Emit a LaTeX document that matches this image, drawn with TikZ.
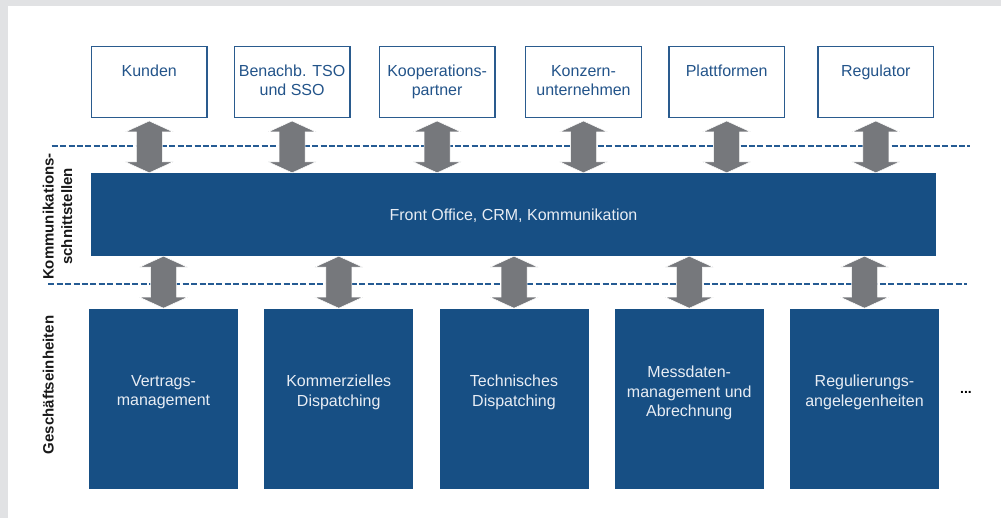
\documentclass[tikz,border=0pt]{standalone}
\usepackage{fontspec}
\setmainfont{Liberation Sans}
\usetikzlibrary{calc}
\definecolor{navy}{HTML}{174F84}
\definecolor{arrowgray}{HTML}{76787C}
\definecolor{lineblue}{HTML}{255B93}
\definecolor{boxblue}{HTML}{2A5B8E}
\definecolor{textblue}{HTML}{23548A}
\definecolor{pagegray}{HTML}{E1E2E4}
\definecolor{lighttext}{HTML}{E8EDF4}
\begin{document}
\begin{tikzpicture}[x=1pt,y=-1pt,
  topbox/.style={draw=boxblue, line width=1.4pt, fill=white, minimum width=115.6pt, minimum height=70.6pt, inner sep=0pt},
  unitbox/.style={fill=navy, minimum width=149pt, minimum height=179.5pt, inner sep=0pt},
  fobox/.style={fill=navy, minimum width=845pt, minimum height=83pt, inner sep=0pt},
  toptext/.style={anchor=north, inner sep=0pt, align=center, text=textblue, font=\fontsize{16}{19}\selectfont},
  unittext/.style={anchor=north, inner sep=0pt, align=center, text=lighttext, font=\fontsize{16}{19.5}\selectfont},
  sidelabel/.style={rotate=90, inner sep=0pt, align=center, font=\bfseries\fontsize{15}{18.7}\selectfont, text=black!90},
  sepline/.style={draw=lineblue, line width=2pt, dash pattern=on 6pt off 2.4pt},
  dbl/.style={fill=arrowgray, draw=white, line width=0.5pt,
    to path={let \p1=(\tikztostart), \p2=(\tikztotarget) in
      (\x1,\y1) -- (\x1+24pt,\y1-11pt) -- (\x1+13pt,\y1-11pt) -- (\x1+13pt,\y2+11pt)
      -- (\x1+24pt,\y2+11pt) -- (\x1,\y2) -- (\x1-24pt,\y2+11pt) -- (\x1-13pt,\y2+11pt)
      -- (\x1-13pt,\y1-11pt) -- (\x1-24pt,\y1-11pt) -- cycle}},
]
\useasboundingbox (0,0) rectangle (1001,518);
\fill[pagegray] (0,0) rectangle (1001,518);
\fill[white] (7.5,6) rectangle (1001,518);

% separator lines
\coordinate (d1l) at (51.7,145.7);
\coordinate (d1r) at (970,145.7);
\coordinate (d2l) at (48.3,283.7);
\coordinate (d2r) at (967,283.7);
\draw[sepline] (d1l) -- (d1r);
\draw[sepline] (d2l) -- (d2r);

% side labels
\node[sidelabel] (lk) at (57.5,216.5) {Kommunikations-\\schnittstellen};
\node[sidelabel] (lg) at (48.2,385) {Geschäftseinheiten};

% top boxes
\node[topbox] (t1) at (149.25,82) {};
\node[topbox] (t2) at (292.1,82) {};
\node[topbox] (t3) at (437.1,82) {};
\node[topbox] (t4) at (583.5,82) {};
\node[topbox] (t5) at (726.7,82) {};
\node[topbox] (t6) at (875.8,82) {};
\node[toptext] (tt1) at (149.25,65) {Kunden};
\node[toptext] (tt2) at (292.1,65) {Benachb. TSO\\und SSO};
\node[toptext] (tt3) at (437.1,65) {Kooperations-\\partner};
\node[toptext] (tt4) at (583.5,65) {Konzern-\\unternehmen};
\node[toptext] (tt5) at (726.7,65) {Plattformen};
\node[toptext] (tt6) at (875.8,65) {Regulator};

% front office
\node[fobox] (fo) at (513.5,214.5) {};
\node[anchor=base, inner sep=0pt, text=lighttext, font=\fontsize{16}{19}\selectfont] (fot) at (513.5,221) {Front Office, CRM, Kommunikation};

% business units
\node[unitbox] (u1) at (163.5,398.75) {};
\node[unitbox] (u2) at (338.75,398.75) {};
\node[unitbox] (u3) at (514,398.75) {};
\node[unitbox] (u4) at (689.25,398.75) {};
\node[unitbox] (u5) at (864.5,398.75) {};
\node[unittext] (ut1) at (163.5,375) {Vertrags-\\management};
\node[unittext] (ut2) at (338.75,375) {Kommerzielles\\Dispatching};
\node[unittext] (ut3) at (514,375) {Technisches\\Dispatching};
\node[unittext] (ut4) at (689.25,366) {Messdaten-\\management und\\Abrechnung};
\node[unittext] (ut5) at (864.5,375) {Regulierungs-\\angelegenheiten};
\node[anchor=base, inner sep=0pt, font=\bfseries\fontsize{14}{16}\selectfont] (dots) at (966,393) {...};

% double arrows
\foreach \i in {1,...,6}{
  \path[dbl] ([yshift=-3pt]t\i.south) to (t\i.south |- fo.north);
}
\foreach \i in {1,...,5}{
  \path[dbl] (u\i.north |- fo.south) to ([yshift=0.6pt]u\i.north);
}
\end{tikzpicture}
\end{document}
